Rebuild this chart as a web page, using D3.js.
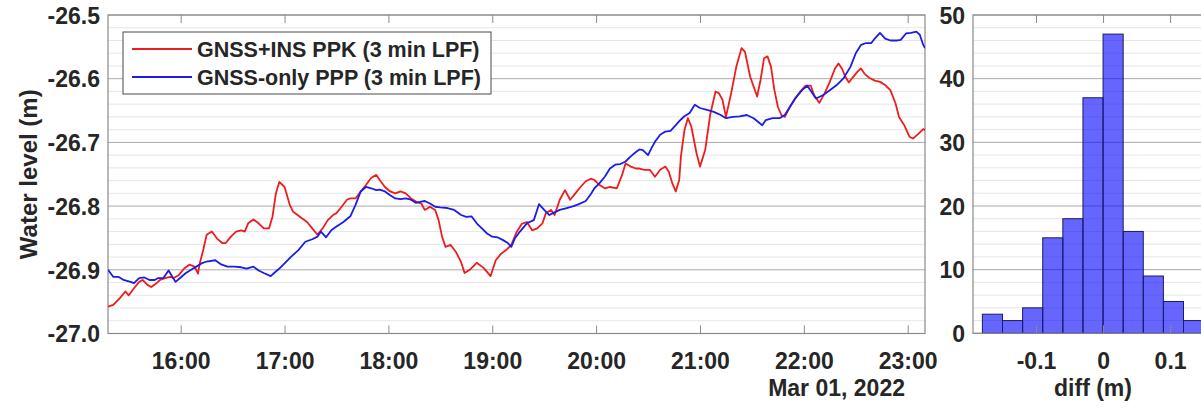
<!DOCTYPE html>
<html>
<head>
<meta charset="utf-8">
<script src="https://cdn.jsdelivr.net/npm/d3@7/dist/d3.min.js"></script>
<style>
  html, body { margin: 0; padding: 0; background: #fff; }
  svg { display: block; font-family: "Liberation Sans", Arial, sans-serif; font-weight: bold; }
</style>
</head>
<body>
<svg id="chart" width="1201" height="408"></svg>
<script>
// Water level on 1 March 2022, two processing strategies, low-pass filtered (3 min)
const ppkSeries = [
  ["15:18",-26.958],["15:21",-26.955],["15:25",-26.944],["15:28",-26.934],["15:30",-26.940],["15:33",-26.929],
  ["15:36",-26.919],["15:38",-26.916],["15:41",-26.924],["15:43",-26.927],["15:46",-26.921],["15:48",-26.916],
  ["15:51",-26.913],["15:54",-26.911],["15:56",-26.913],["15:59",-26.908],["16:02",-26.898],["16:05",-26.892],
  ["16:08",-26.895],["16:10",-26.906],["16:11",-26.890],["16:13",-26.869],["16:15",-26.845],["16:18",-26.840],
  ["16:21",-26.851],["16:24",-26.858],["16:26",-26.858],["16:29",-26.848],["16:32",-26.840],["16:35",-26.838],
  ["16:37",-26.840],["16:39",-26.827],["16:42",-26.821],["16:45",-26.827],["16:48",-26.835],["16:51",-26.835],
  ["16:53",-26.817],["16:55",-26.780],["16:57",-26.762],["17:00",-26.770],["17:03",-26.798],["17:05",-26.809],
  ["17:09",-26.817],["17:13",-26.825],["17:16",-26.835],["17:19",-26.845],["17:22",-26.835],["17:25",-26.822],
  ["17:28",-26.814],["17:30",-26.811],["17:33",-26.801],["17:36",-26.790],["17:38",-26.788],["17:41",-26.788],
  ["17:44",-26.777],["17:47",-26.767],["17:50",-26.756],["17:53",-26.751],["17:55",-26.759],["17:58",-26.770],
  ["18:01",-26.777],["18:04",-26.780],["18:07",-26.777],["18:10",-26.780],["18:13",-26.788],["18:16",-26.793],
  ["18:19",-26.796],["18:21",-26.806],["18:24",-26.801],["18:27",-26.806],["18:29",-26.822],["18:31",-26.848],
  ["18:33",-26.864],["18:36",-26.861],["18:39",-26.872],["18:42",-26.888],["18:44",-26.905],["18:47",-26.900],
  ["18:51",-26.889],["18:55",-26.897],["18:59",-26.910],["19:02",-26.885],["19:05",-26.875],["19:08",-26.869],
  ["19:11",-26.861],["19:14",-26.841],["19:17",-26.828],["19:20",-26.825],["19:23",-26.838],["19:26",-26.835],
  ["19:29",-26.827],["19:31",-26.811],["19:34",-26.806],["19:36",-26.814],["19:39",-26.790],["19:42",-26.775],
  ["19:45",-26.790],["19:48",-26.780],["19:51",-26.770],["19:54",-26.761],["19:57",-26.757],["19:59",-26.759],
  ["20:02",-26.767],["20:05",-26.772],["20:08",-26.770],["20:12",-26.772],["20:15",-26.751],["20:17",-26.733],
  ["20:20",-26.738],["20:23",-26.741],["20:25",-26.741],["20:28",-26.743],["20:31",-26.743],["20:34",-26.754],
  ["20:37",-26.743],["20:40",-26.738],["20:42",-26.746],["20:44",-26.764],["20:46",-26.777],["20:48",-26.759],
  ["20:49",-26.722],["20:51",-26.681],["20:53",-26.662],["20:55",-26.675],["20:58",-26.717],["21:00",-26.738],
  ["21:03",-26.712],["21:06",-26.655],["21:09",-26.620],["21:11",-26.623],["21:13",-26.633],["21:15",-26.660],
  ["21:18",-26.623],["21:21",-26.581],["21:24",-26.552],["21:26",-26.558],["21:29",-26.597],["21:33",-26.628],
  ["21:35",-26.602],["21:37",-26.568],["21:39",-26.565],["21:41",-26.581],["21:43",-26.618],["21:45",-26.644],
  ["21:47",-26.657],["21:49",-26.660],["21:52",-26.644],["21:55",-26.631],["21:58",-26.620],["22:01",-26.611],
  ["22:04",-26.611],["22:06",-26.626],["22:09",-26.638],["22:12",-26.623],["22:15",-26.605],["22:18",-26.584],
  ["22:20",-26.576],["22:22",-26.584],["22:24",-26.597],["22:26",-26.606],["22:28",-26.599],["22:31",-26.589],
  ["22:33",-26.584],["22:35",-26.592],["22:38",-26.599],["22:41",-26.603],["22:44",-26.605],["22:47",-26.610],
  ["22:50",-26.618],["22:53",-26.639],["22:55",-26.660],["22:58",-26.673],["23:01",-26.691],["23:03",-26.694],
  ["23:06",-26.687],["23:09",-26.679],["23:10",-26.681]
];

const pppSeries = [
  ["15:18",-26.900],["15:21",-26.911],["15:24",-26.911],["15:27",-26.916],["15:31",-26.919],["15:33",-26.921],
  ["15:36",-26.913],["15:39",-26.912],["15:42",-26.916],["15:45",-26.916],["15:47",-26.913],["15:50",-26.913],
  ["15:53",-26.901],["15:55",-26.910],["15:57",-26.919],["16:00",-26.912],["16:03",-26.905],["16:06",-26.900],
  ["16:09",-26.895],["16:12",-26.890],["16:15",-26.887],["16:20",-26.885],["16:23",-26.891],["16:27",-26.895],
  ["16:31",-26.895],["16:35",-26.896],["16:38",-26.898],["16:42",-26.895],["16:45",-26.901],["16:48",-26.905],
  ["16:52",-26.910],["16:54",-26.905],["16:57",-26.898],["17:01",-26.887],["17:04",-26.879],["17:08",-26.869],
  ["17:12",-26.856],["17:16",-26.852],["17:19",-26.848],["17:21",-26.840],["17:24",-26.849],["17:27",-26.838],
  ["17:30",-26.832],["17:34",-26.825],["17:38",-26.816],["17:41",-26.798],["17:44",-26.777],["17:47",-26.770],
  ["17:50",-26.772],["17:53",-26.775],["17:55",-26.774],["17:58",-26.777],["18:01",-26.783],["18:04",-26.788],
  ["18:07",-26.789],["18:10",-26.788],["18:13",-26.790],["18:16",-26.795],["18:19",-26.793],["18:21",-26.792],
  ["18:24",-26.796],["18:27",-26.801],["18:30",-26.802],["18:34",-26.803],["18:38",-26.806],["18:42",-26.814],
  ["18:45",-26.817],["18:48",-26.816],["18:51",-26.827],["18:54",-26.835],["18:57",-26.843],["19:00",-26.848],
  ["19:03",-26.849],["19:06",-26.853],["19:09",-26.858],["19:11",-26.864],["19:13",-26.851],["19:16",-26.840],
  ["19:20",-26.827],["19:24",-26.822],["19:27",-26.797],["19:30",-26.806],["19:33",-26.814],["19:35",-26.811],
  ["19:39",-26.806],["19:43",-26.803],["19:47",-26.800],["19:50",-26.797],["19:54",-26.792],["19:57",-26.781],
  ["19:59",-26.772],["20:02",-26.764],["20:05",-26.754],["20:08",-26.741],["20:11",-26.735],["20:14",-26.734],
  ["20:17",-26.730],["20:20",-26.722],["20:23",-26.715],["20:25",-26.711],["20:27",-26.712],["20:30",-26.720],
  ["20:32",-26.709],["20:34",-26.699],["20:37",-26.688],["20:40",-26.683],["20:43",-26.682],["20:46",-26.673],
  ["20:49",-26.664],["20:51",-26.659],["20:54",-26.654],["20:57",-26.641],["21:00",-26.646],["21:04",-26.649],
  ["21:08",-26.652],["21:12",-26.657],["21:15",-26.662],["21:19",-26.660],["21:23",-26.659],["21:27",-26.657],
  ["21:31",-26.662],["21:36",-26.673],["21:38",-26.665],["21:42",-26.662],["21:46",-26.662],["21:49",-26.657],
  ["21:52",-26.644],["21:55",-26.631],["21:59",-26.618],["22:02",-26.611],["22:04",-26.619],["22:07",-26.631],
  ["22:11",-26.626],["22:15",-26.618],["22:19",-26.610],["22:23",-26.599],["22:27",-26.581],["22:30",-26.560],
  ["22:33",-26.547],["22:36",-26.544],["22:39",-26.544],["22:41",-26.537],["22:44",-26.528],["22:47",-26.537],
  ["22:50",-26.540],["22:54",-26.540],["22:56",-26.539],["22:59",-26.529],["23:02",-26.528],["23:05",-26.526],
  ["23:07",-26.531],["23:09",-26.547],["23:10",-26.552]
];

const seriesNames = ["GNSS+INS PPK (3 min LPF)", "GNSS-only PPP (3 min LPF)"];
const levelTicks = [-27.0, -26.9, -26.8, -26.7, -26.6, -26.5];
const hourTicks = ["16:00","17:00","18:00","19:00","20:00","21:00","22:00","23:00"];
const timeRange = ["15:18", "23:10"];
const dateLabel = "Mar 01, 2022";

// histogram of the difference between the two series
const binEdges = [-0.18, -0.15, -0.12, -0.09, -0.06, -0.03, 0, 0.03, 0.06, 0.09, 0.12, 0.15, 0.18];
const binCounts = [3, 2, 4, 15, 18, 37, 47, 16, 9, 5, 2, 0];
const diffTicks = [-0.1, 0, 0.1];
const countTicks = [0, 10, 20, 30, 40, 50];

const toDate = s => { const [h, m] = s.split(":").map(Number); return new Date(2022, 2, 1, h, m); };

const svg = d3.select("#chart");
const textColor = "#262626";
const frameColor = "#8a8a8a";
const majorGrid = "#aaaaaa";
const minorGrid = "#e6e6e6";

// ---------- time series panel ----------
const L = { x0: 108, x1: 925, y0: 15, y1: 333.5 };
const x = d3.scaleTime().domain(timeRange.map(toDate)).range([L.x0, L.x1]);
const y = d3.scaleLinear().domain([-27.0, -26.5]).range([L.y1, L.y0]);

const left = svg.append("g");
// minor grid every 0.02 m
left.append("g").selectAll("line")
  .data(d3.range(-27.0, -26.5 + 1e-9, 0.02).filter(v => Math.abs(Math.round(v * 10) - v * 10) > 1e-6))
  .join("line")
  .attr("x1", L.x0).attr("x2", L.x1)
  .attr("y1", d => y(d)).attr("y2", d => y(d))
  .attr("stroke", minorGrid).attr("stroke-width", 1);
// major grid
left.append("g").selectAll("line")
  .data(levelTicks)
  .join("line")
  .attr("x1", L.x0).attr("x2", L.x1)
  .attr("y1", d => y(d)).attr("y2", d => y(d))
  .attr("stroke", majorGrid).attr("stroke-width", 1);

// axes via d3 axis generators, ticks pointing inward
const xAxisBottom = d3.axisBottom(x).tickValues(hourTicks.map(toDate)).tickFormat(d3.timeFormat("%H:%M"))
  .tickSizeInner(-8).tickSizeOuter(0).tickPadding(19);
const gxb = left.append("g").attr("transform", `translate(0,${L.y1})`).call(xAxisBottom);
const xAxisTop = d3.axisTop(x).tickValues(hourTicks.map(toDate)).tickFormat("").tickSizeInner(-8).tickSizeOuter(0);
const gxt = left.append("g").attr("transform", `translate(0,${L.y0})`).call(xAxisTop);
const yAxisLeft = d3.axisLeft(y).tickValues(levelTicks).tickFormat(d => d.toFixed(1)).tickSizeInner(0).tickSizeOuter(0).tickPadding(8);
const gyl = left.append("g").attr("transform", `translate(${L.x0},0)`).call(yAxisLeft);

[gxb, gxt, gyl].forEach(g => {
  g.select(".domain").remove();
  g.selectAll(".tick line").attr("stroke", frameColor);
  g.selectAll("text").attr("fill", textColor).style("font-size", "23px").style("font-weight", "bold")
    .style("font-family", "'Liberation Sans', Arial, sans-serif");
});
gyl.selectAll("text").attr("dy", "0.36em");

// frame
left.append("rect").attr("x", L.x0).attr("y", L.y0).attr("width", L.x1 - L.x0).attr("height", L.y1 - L.y0)
  .attr("fill", "none").attr("stroke", frameColor).attr("stroke-width", 1.2);

// lines
svg.append("defs").append("clipPath").attr("id", "clipL")
  .append("rect").attr("x", L.x0).attr("y", L.y0).attr("width", L.x1 - L.x0).attr("height", L.y1 - L.y0);
const line = d3.line().x(d => x(toDate(d[0]))).y(d => y(d[1]));
const lineColors = ["#ee1c1c", "#1c1ce8"];
const plotG = left.append("g").attr("clip-path", "url(#clipL)");
[ppkSeries, pppSeries].forEach((s, i) => {
  plotG.append("path").datum(s).attr("d", line)
    .attr("fill", "none").attr("stroke", lineColors[i]).attr("stroke-width", 1.8)
    .attr("stroke-linejoin", "round");
});

// axis titles
svg.append("text").attr("transform", `translate(37,${(L.y0 + L.y1) / 2}) rotate(-90)`)
  .attr("text-anchor", "middle").attr("fill", textColor).style("font-size", "24px").text("Water level (m)");
svg.append("text").attr("x", 905).attr("y", 396).attr("text-anchor", "end")
  .attr("fill", textColor).style("font-size", "23px").text(dateLabel);

// legend
const lg = left.append("g");
lg.append("rect").attr("x", 123).attr("y", 32).attr("width", 368).attr("height", 62)
  .attr("fill", "#fff").attr("stroke", "#4a4a4a").attr("stroke-width", 1);
seriesNames.forEach((name, i) => {
  const cy = 49 + i * 28;
  lg.append("line").attr("x1", 132).attr("x2", 192).attr("y1", cy).attr("y2", cy)
    .attr("stroke", lineColors[i]).attr("stroke-width", 1.8);
  lg.append("text").attr("x", 197).attr("y", cy).attr("dy", "0.36em")
    .attr("fill", textColor).style("font-size", "21.5px").text(name);
});

// ---------- histogram panel ----------
const H = { x0: 973, x1: 1213, y0: 15, y1: 333.3 };
const hx = d3.scaleLinear().domain([-0.194, 0.164]).range([H.x0, H.x1]);
const hy = d3.scaleLinear().domain([0, 50]).range([H.y1, H.y0]);
const right = svg.append("g");

right.append("g").selectAll("line")
  .data(d3.range(0, 51, 2).filter(v => v % 10 !== 0))
  .join("line")
  .attr("x1", H.x0).attr("x2", H.x1).attr("y1", d => hy(d)).attr("y2", d => hy(d))
  .attr("stroke", minorGrid).attr("stroke-width", 1);
right.append("g").selectAll("line")
  .data(countTicks)
  .join("line")
  .attr("x1", H.x0).attr("x2", H.x1).attr("y1", d => hy(d)).attr("y2", d => hy(d))
  .attr("stroke", majorGrid).attr("stroke-width", 1);

const bins = binCounts.map((c, i) => ({ lo: binEdges[i], hi: binEdges[i + 1], count: c })).filter(b => b.count > 0);
right.append("g").selectAll("rect")
  .data(bins)
  .join("rect")
  .attr("x", d => hx(d.lo)).attr("width", d => hx(d.hi) - hx(d.lo))
  .attr("y", d => hy(d.count)).attr("height", d => hy(0) - hy(d.count))
  .attr("fill", "rgb(0,0,255)").attr("fill-opacity", 0.6)
  .attr("stroke", "#1b1b66").attr("stroke-width", 1);

const hxb = right.append("g").attr("transform", `translate(0,${H.y1})`)
  .call(d3.axisBottom(hx).tickValues(diffTicks).tickFormat(d => d === 0 ? "0" : d.toFixed(1))
    .tickSizeInner(-8).tickSizeOuter(0).tickPadding(19));
const hxt = right.append("g").attr("transform", `translate(0,${H.y0})`)
  .call(d3.axisTop(hx).tickValues(diffTicks).tickFormat("").tickSizeInner(-8).tickSizeOuter(0));
const hyl = right.append("g").attr("transform", `translate(${H.x0},0)`)
  .call(d3.axisLeft(hy).tickValues(countTicks).tickSizeInner(0).tickSizeOuter(0).tickPadding(8));
[hxb, hxt, hyl].forEach(g => {
  g.select(".domain").remove();
  g.selectAll(".tick line").attr("stroke", frameColor);
  g.selectAll("text").attr("fill", textColor).style("font-size", "23px").style("font-weight", "bold")
    .style("font-family", "'Liberation Sans', Arial, sans-serif");
});
hyl.selectAll("text").attr("dy", "0.36em");

right.append("rect").attr("x", H.x0).attr("y", H.y0).attr("width", H.x1 - H.x0).attr("height", H.y1 - H.y0)
  .attr("fill", "none").attr("stroke", frameColor).attr("stroke-width", 1.2);

svg.append("text").attr("x", (H.x0 + H.x1) / 2).attr("y", 396).attr("text-anchor", "middle")
  .attr("fill", textColor).style("font-size", "23px").text("diff (m)");
</script>
</body>
</html>
